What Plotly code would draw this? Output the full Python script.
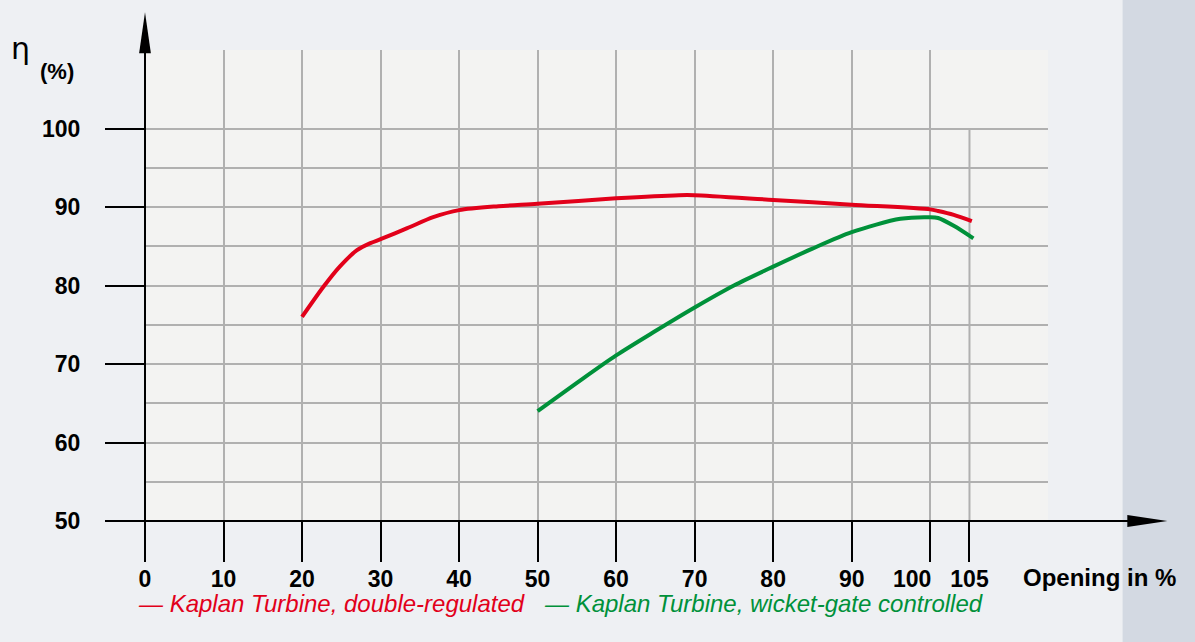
import plotly.graph_objects as go

# Wirkungsgrad-Kurven
red_x = [20, 22.7, 24.8, 27, 28.7, 30, 33.4, 36.7, 40, 45, 50, 60, 68, 70, 80, 90, 100, 101, 103, 105.3]
red_y = [76.0, 79.8, 82.4, 84.5, 85.4, 85.9, 87.3, 88.7, 89.6, 90.1, 90.4, 91.1, 91.5, 91.5, 90.9, 90.3, 89.7, 89.5, 89.0, 88.2]
red_name = "Kaplan Turbine, double-regulated"

green_x = [50, 55, 60, 65, 70, 75, 80, 85, 90, 96.2, 100, 101, 103, 105.5]
green_y = [64.0, 67.6, 71.1, 74.2, 77.2, 80.0, 82.4, 84.7, 86.8, 88.5, 88.7, 88.6, 87.6, 86.0]
green_name = "Kaplan Turbine, wicket-gate controlled"

x_ticks = [0, 10, 20, 30, 40, 50, 60, 70, 80, 90, 100, 105]
x_labels = ["0", "10", "20", "30", "40", "50", "60", "70", "80", "90", "", "105"]
# "100" steht im Original links neben seinem Strich -> eigene Achse mit Verschiebung
x_ticks_shifted = [100]
x_labels_shifted = ["100"]
x_grid = [10, 20, 30, 40, 50, 60, 70, 80, 90, 100]
y_ticks = [50, 60, 70, 80, 90, 100]
y_grid = [55, 60, 65, 70, 75, 80, 85, 90, 95, 100]

RED = "#e2001a"
GREEN = "#00913a"
GRID = "#b0b0b0"
BG = "#eef0f3"
FONT = "Liberation Sans"

X0, X1 = 0, 115
Y0, Y1 = 50, 110


def xp(x):
    return (x - X0) / (X1 - X0)


def yp(y):
    return (y - Y0) / (Y1 - Y0)


fig = go.Figure()
fig.add_trace(go.Scatter(x=red_x, y=red_y, mode="lines", name=red_name,
                         line=dict(color=RED, width=4, shape="spline", smoothing=0.8)))
fig.add_trace(go.Scatter(x=green_x, y=green_y, mode="lines", name=green_name,
                         line=dict(color=GREEN, width=4, shape="spline", smoothing=0.8)))
# leere Spur, damit die zweite x-Achse gezeichnet wird
fig.add_trace(go.Scatter(x=[None], y=[None], xaxis="x2", yaxis="y", mode="lines",
                         hoverinfo="skip", showlegend=False))

shapes = []
# Hintergrund rechts (Foto-Streifen)
shapes.append(dict(type="rect", xref="paper", yref="paper", x0=xp(124.5), x1=xp(135),
                   y0=yp(30), y1=yp(120), fillcolor="#d3d9e2", line_width=0, layer="below"))
# Gitterlinie bei 105 (nur bis 100)
shapes.append(dict(type="line", xref="x", yref="y", x0=105, x1=105, y0=50, y1=100,
                   line=dict(color=GRID, width=2), layer="below"))
# Achsen
shapes.append(dict(type="line", xref="paper", yref="paper", x0=xp(-5), x1=xp(125.5),
                   y0=yp(50), y1=yp(50), line=dict(color="black", width=2)))
shapes.append(dict(type="line", xref="paper", yref="paper", x0=xp(0), x1=xp(0),
                   y0=yp(44.9), y1=yp(110), line=dict(color="black", width=2)))
# Pfeilspitzen
ax_tip, ax_base, hw = 130.2, 125.1, 0.75
shapes.append(dict(type="path", xref="paper", yref="paper",
                   path=f"M {xp(ax_tip)} {yp(50)} L {xp(ax_base)} {yp(50 + hw)} L {xp(ax_base)} {yp(50 - hw)} Z",
                   fillcolor="black", line_width=0))
ay_tip, ay_base = 114.8, 109.6
shapes.append(dict(type="path", xref="paper", yref="paper",
                   path=f"M {xp(0)} {yp(ay_tip)} L {xp(hw)} {yp(ay_base)} L {xp(-hw)} {yp(ay_base)} Z",
                   fillcolor="black", line_width=0))

annotations = [
    dict(text="η", x=xp(-15.9), y=yp(110.2), xref="paper", yref="paper", showarrow=False,
         font=dict(family="DejaVu Sans", size=30, color="black"), xanchor="center", yanchor="middle"),
    dict(text="(%)", x=xp(-13.6), y=yp(107.2), xref="paper", yref="paper", showarrow=False,
         font=dict(family=FONT, size=22, color="black", weight="bold"), xanchor="left", yanchor="middle"),
    dict(text="Opening in %", x=xp(111.6), y=yp(42.8), xref="paper", yref="paper", showarrow=False,
         font=dict(family=FONT, size=24, color="black", weight="bold"), xanchor="left", yanchor="middle"),
    dict(text="<i>— " + red_name + "</i>", x=xp(-1.2), y=yp(39.5), xref="paper", yref="paper",
         showarrow=False, font=dict(family=FONT, size=24, color=RED), xanchor="left", yanchor="middle"),
    dict(text="<i>— " + green_name + "</i>", x=xp(50.6), y=yp(39.5), xref="paper", yref="paper",
         showarrow=False, font=dict(family=FONT, size=24, color=GREEN), xanchor="left", yanchor="middle"),
]

tick_font = dict(family=FONT, size=23, color="black", weight="bold")

fig.update_layout(
    width=1195, height=642,
    margin=dict(l=145, r=147, t=50, b=121),
    paper_bgcolor=BG,
    plot_bgcolor="#f3f3f2",
    showlegend=False,
    shapes=shapes,
    annotations=annotations,
    font=dict(family=FONT, size=24, color="black"),
    xaxis=dict(
        range=[X0, X1], tickvals=x_ticks, ticktext=x_labels,
        showgrid=False, zeroline=False, showline=False, tickangle=0,
        ticks="outside", ticklen=40, tickwidth=2, tickcolor="black",
        minor=dict(tickvals=x_grid, showgrid=True, gridcolor=GRID, gridwidth=2),
        tickfont=tick_font, ticklabelstandoff=-3,
    ),
    xaxis2=dict(
        overlaying="x", anchor="y", side="bottom", range=[X0, X1],
        tickvals=x_ticks_shifted, ticktext=x_labels_shifted, tickangle=0,
        showgrid=False, zeroline=False, showline=False,
        ticks="outside", ticklen=40, tickwidth=2, tickcolor="black",
        tickfont=tick_font, ticklabelshift=-18, ticklabelstandoff=-3,
    ),
    yaxis=dict(
        range=[Y0, Y1], tickvals=y_ticks, ticktext=[str(v) for v in y_ticks],
        showgrid=False, zeroline=False, showline=False,
        ticks="outside", ticklen=39, tickwidth=2, tickcolor="black",
        minor=dict(tickvals=y_grid, showgrid=True, gridcolor=GRID, gridwidth=2),
        tickfont=tick_font, ticklabelstandoff=20,
    ),
)

# Seitenrand entfernen, damit die Grafik bei (0,0) beginnt
fig.write_html("out.html", config={"displayModeBar": False},
               post_script=f"document.body.style.margin='0';document.body.style.background='{BG}';")
